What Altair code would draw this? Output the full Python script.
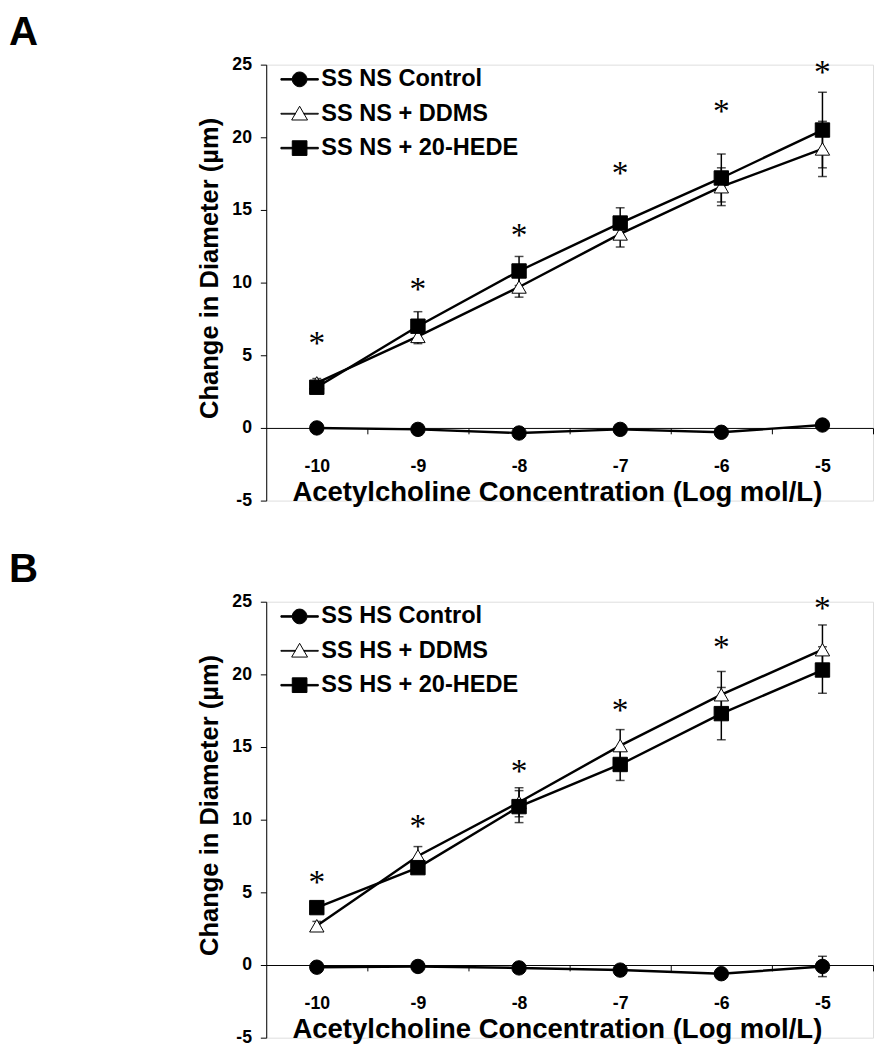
import altair as alt
import pandas as pd

FONT = "Liberation Sans"

conc = [-10, -9, -8, -7, -6, -5]

# Panel A
a_labels = ["SS NS Control", "SS NS + DDMS", "SS NS + 20-HEDE"]
a_control = [0.0, -0.1, -0.35, -0.1, -0.3, 0.2]
a_control_err = [0.2, 0.2, 0.2, 0.2, 0.2, 0.3]
a_ddms = [3.1, 6.3, 9.7, 13.35, 16.6, 19.2]
a_ddms_err = [0.3, 0.5, 0.7, 0.9, 1.3, 1.9]
a_hede = [2.8, 7.0, 10.8, 14.1, 17.2, 20.5]
a_hede_err = [0.3, 1.0, 1.0, 1.05, 1.65, 2.6]
a_stars = [6.15, 9.9, 13.6, 17.9, 22.1, 24.8]

# Panel B
b_labels = ["SS HS Control", "SS HS + DDMS", "SS HS + 20-HEDE"]
b_control = [-0.15, -0.1, -0.2, -0.35, -0.6, -0.1]
b_control_err = [0.2, 0.2, 0.2, 0.2, 0.2, 0.7]
b_ddms = [2.7, 7.5, 11.2, 15.1, 18.6, 21.7]
b_ddms_err = [0.3, 0.65, 1.0, 1.1, 1.6, 1.7]
b_hede = [3.95, 6.7, 10.9, 13.8, 17.3, 20.3]
b_hede_err = [0.3, 0.3, 1.1, 1.1, 1.8, 1.6]
b_stars = [6.05, 9.9, 13.7, 17.9, 22.2, 24.9]

y_ticks = [-5, 0, 5, 10, 15, 20, 25]
marker_shapes = ["circle", "triangle-up", "square"]
marker_fills = ["black", "white", "black"]
marker_strokes = ["black", "black", "black"]

# legend symbols: marker with line segment (Excel style)
legend_paths = [
    "M-2.24,-0.09H-0.8V0.09H-2.24Z M0.8,-0.09H2.24V0.09H0.8Z "
    "M-0.88,0A0.88,0.88 0 1,0 0.88,0A0.88,0.88 0 1,0 -0.88,0Z",
    "M-2.24,-0.05H-0.52V0.05H-2.24Z M0.52,-0.05H2.24V0.05H0.52Z "
    "M0,-0.9L0.95,0.75L-0.95,0.75Z",
    "M-2.24,-0.09H-0.85V0.09H-2.24Z M0.85,-0.09H2.24V0.09H0.85Z "
    "M-0.88,-0.88H0.88V0.88H-0.88Z",
]

W, H = 618, 444


def panel(letter, labels, series, errs, stars):
    rows = []
    for lab, vals, es in zip(labels, series, errs):
        for c, v, e in zip(conc, vals, es):
            rows.append({"x": c, "y": v, "lo": v - e, "hi": v + e, "series": lab})
    df = pd.DataFrame(rows)
    star_df = pd.DataFrame({"x": conc, "y": stars, "t": ["*"] * len(conc)})

    xs = alt.Scale(domain=[-10.5, -4.5], nice=False, zero=False)
    ys = alt.Scale(domain=[-5, 25], nice=False, zero=False)
    ax_x = alt.Axis(
        values=conc, title="Acetylcholine Concentration (Log mol/L)",
        labelExpr="toString(datum.value)",
        offset=-H * 5 / 30, tickOffset=W / 12, labelOffset=-W / 12,
        tickSize=6, tickColor="black", tickWidth=1,
        domainColor="black", domainWidth=1, grid=False,
        labelPadding=24, labelFont=FONT, labelFontSize=18, labelFontWeight="bold",
        labelColor="black", labelFlush=False, labelOverlap=False,
        titleFont=FONT, titleFontSize=28, titleFontWeight="bold", titleColor="black",
        titleX=296, titleY=52, titleAlign="center", titleBaseline="top",
    )
    ax_y = alt.Axis(
        values=y_ticks, title="Change in Diameter (µm)",
        labelExpr="toString(datum.value)",
        tickSize=6, tickColor="black", tickWidth=1,
        domainColor="black", domainWidth=1, grid=False,
        labelPadding=9, labelFont=FONT, labelFontSize=18, labelFontWeight="bold",
        labelColor="black", labelFlush=False,
        titleFont=FONT, titleFontSize=26, titleFontWeight="bold", titleColor="black",
        titleAngle=270, titleX=-58, titleY=207, titleAlign="center", titleBaseline="middle",
    )
    X = alt.X("x:Q", scale=xs, axis=ax_x)
    base = alt.Chart(df)

    lines = base.mark_line(color="black", strokeWidth=2.5).encode(
        x=X, y=alt.Y("y:Q", scale=ys, axis=ax_y), detail="series:N"
    )
    err_rule = base.mark_rule(color="black", strokeWidth=1.5).encode(
        x=X, y=alt.Y("lo:Q", scale=ys, axis=ax_y), y2="hi:Q"
    )
    cap_lo = base.mark_tick(color="black", thickness=1.5, size=9, orient="horizontal").encode(
        x=X, y=alt.Y("lo:Q", scale=ys, axis=ax_y)
    )
    cap_hi = base.mark_tick(color="black", thickness=1.5, size=9, orient="horizontal").encode(
        x=X, y=alt.Y("hi:Q", scale=ys, axis=ax_y)
    )
    points = base.mark_point(stroke="black", strokeWidth=1, opacity=1, size=215).encode(
        x=X, y=alt.Y("y:Q", scale=ys, axis=ax_y),
        shape=alt.Shape("series:N", scale=alt.Scale(domain=labels, range=marker_shapes), legend=None),
        fill=alt.Fill("series:N", scale=alt.Scale(domain=labels, range=marker_fills), legend=None),
    )
    leg = alt.Legend(
        orient="none", legendX=22, legendY=3, title=None, padding=0,
        labelFont=FONT, labelFontSize=24, labelFontWeight="bold", labelColor="black",
        labelLimit=0, labelOffset=10, rowPadding=11,
        symbolSize=289, symbolStrokeColor="black", symbolStrokeWidth=1, symbolOpacity=1,
    )
    legend_layer = base.mark_point(filled=False, strokeWidth=1, opacity=0).encode(
        x=X, y=alt.Y("y:Q", scale=ys, axis=ax_y),
        shape=alt.Shape("series:N", scale=alt.Scale(domain=labels, range=legend_paths), legend=leg),
        fill=alt.Fill("series:N", scale=alt.Scale(domain=labels, range=marker_fills), legend=leg),
        stroke=alt.Stroke("series:N", scale=alt.Scale(domain=labels, range=marker_strokes), legend=leg),
    )
    star_layer = alt.Chart(star_df).mark_text(
        font="Liberation Serif", fontSize=34, color="black", baseline="alphabetic", dy=16
    ).encode(x=X, y=alt.Y("y:Q", scale=ys, axis=ax_y), text="t:N")

    return alt.layer(
        lines, err_rule, cap_lo, cap_hi, points, legend_layer, star_layer
    ).resolve_scale(shape="independent", fill="independent", stroke="independent").properties(
        width=W, height=H,
        title=alt.TitleParams(letter, anchor="start", frame="group", dx=-262, offset=2,
                              font=FONT, fontSize=41, fontWeight="bold", color="black"),
    )


pa = panel("A", a_labels, [a_control, a_ddms, a_hede],
           [a_control_err, a_ddms_err, a_hede_err], a_stars)
pb = panel("B", b_labels, [b_control, b_ddms, b_hede],
           [b_control_err, b_ddms_err, b_hede_err], b_stars)

chart = alt.vconcat(pa, pb, spacing=38).resolve_scale(
    shape="independent", fill="independent", stroke="independent"
).resolve_legend(shape="independent", fill="independent", stroke="independent").properties(
    padding={"left": 0, "top": -6, "right": 0, "bottom": 0}
).configure_view(stroke=None).configure(background="white")

chart.save("out.html", embed_options={"renderer": "svg", "actions": False})
